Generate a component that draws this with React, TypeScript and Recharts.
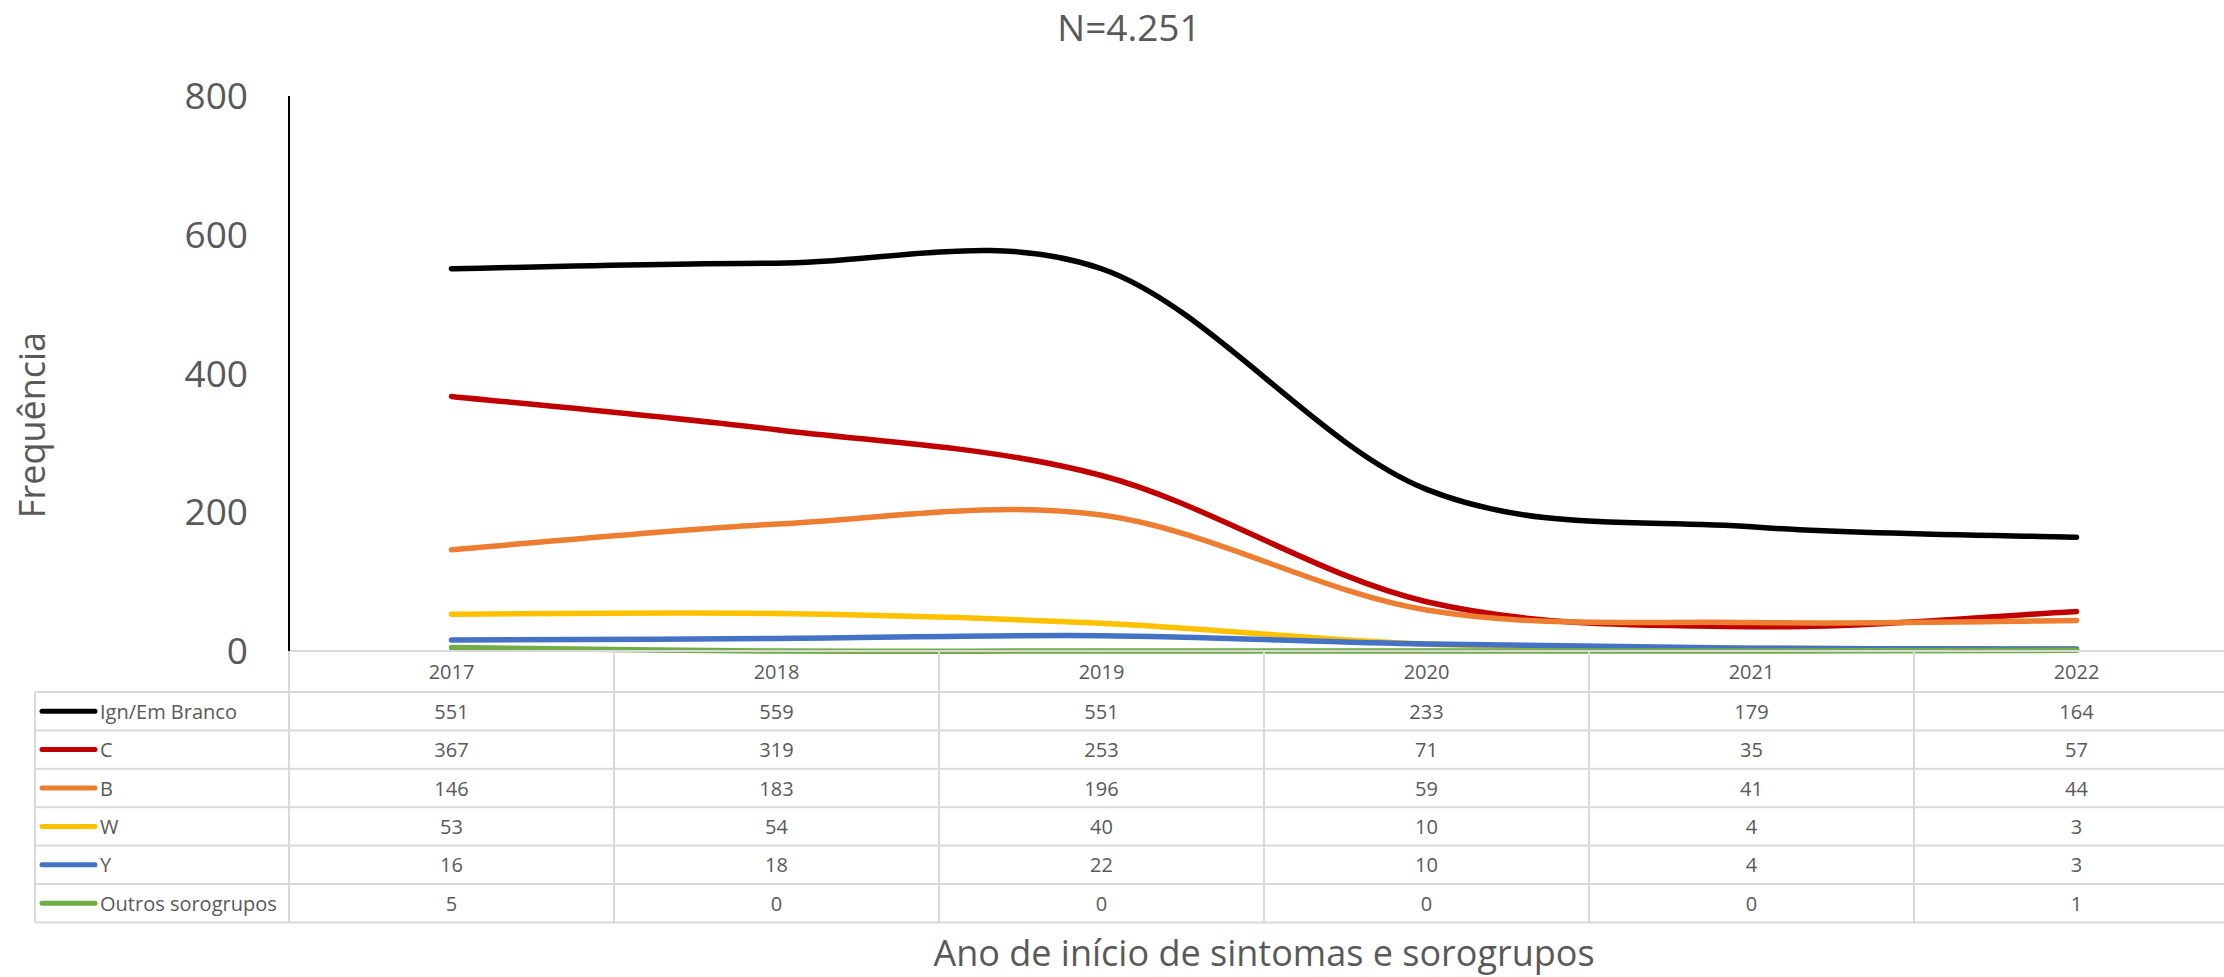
import { LineChart, Line, XAxis, YAxis, Legend, Label } from "recharts";

const years = ["2017", "2018", "2019", "2020", "2021", "2022"];
const ignEmBranco = [551, 559, 551, 233, 179, 164];
const sorogrupoC = [367, 319, 253, 71, 35, 57];
const sorogrupoB = [146, 183, 196, 59, 41, 44];
const sorogrupoW = [53, 54, 40, 10, 4, 3];
const sorogrupoY = [16, 18, 22, 10, 4, 3];
const outros = [5, 0, 0, 0, 0, 1];
const yTicks = [0, 200, 400, 600, 800];

const seriesList = [
  { key: "ign", name: "Ign/Em Branco", color: "#000000", values: ignEmBranco },
  { key: "c", name: "C", color: "#C00000", values: sorogrupoC },
  { key: "b", name: "B", color: "#ED7D31", values: sorogrupoB },
  { key: "w", name: "W", color: "#FFC000", values: sorogrupoW },
  { key: "y", name: "Y", color: "#4472C4", values: sorogrupoY },
  { key: "outros", name: "Outros sorogrupos", color: "#70AD47", values: outros },
];

const data = years.map((year, i) => {
  const row: Record<string, string | number> = { year };
  seriesList.forEach((s) => (row[s.key] = s.values[i]));
  return row;
});

const TEXT = "#595959";
const GRID = "#d9d9d9";
const COL_W = 325;
const HEAD_H = 41;
const ROW_H = 38.4;

// excel-style smoothed line (catmull-rom, ends clamped)
const excelSmooth = (context: any) => {
  let pts: number[][] = [];
  return {
    areaStart() {},
    areaEnd() {},
    lineStart() {
      pts = [];
    },
    point(x: number, y: number) {
      pts.push([+x, +y]);
    },
    lineEnd() {
      if (!pts.length) return;
      context.moveTo(pts[0][0], pts[0][1]);
      for (let i = 0; i < pts.length - 1; i++) {
        const p0 = pts[i - 1] || pts[i];
        const p1 = pts[i];
        const p2 = pts[i + 1];
        const p3 = pts[i + 2] || p2;
        context.bezierCurveTo(
          p1[0] + (p2[0] - p0[0]) / 6,
          p1[1] + (p2[1] - p0[1]) / 6,
          p2[0] - (p3[0] - p1[0]) / 6,
          p2[1] - (p3[1] - p1[1]) / 6,
          p2[0],
          p2[1]
        );
      }
    },
  };
};

const TableColumn = (props: any) => {
  const { x, y, payload } = props;
  const row = data.find((d) => d.year === payload.value);
  if (!row) return null;
  const left = x - COL_W / 2;
  const right = x + COL_W / 2;
  const bottom = y + HEAD_H + ROW_H * seriesList.length;
  return (
    <g>
      <line x1={left} x2={left} y1={y} y2={bottom} stroke={GRID} strokeWidth={2} />
      <line x1={right} x2={right} y1={y} y2={bottom} stroke={GRID} strokeWidth={2} />
      <text x={x} y={y + HEAD_H / 2} textAnchor="middle" dominantBaseline="central" fontSize={20} fill={TEXT}>
        {row.year}
      </text>
      {seriesList.map((s, i) => {
        const top = y + HEAD_H + ROW_H * i;
        return (
          <g key={s.key}>
            <line x1={left} x2={right} y1={top} y2={top} stroke={GRID} strokeWidth={2} />
            <text x={x} y={top + ROW_H / 2} textAnchor="middle" dominantBaseline="central" fontSize={20} fill={TEXT}>
              {row[s.key]}
            </text>
          </g>
        );
      })}
      <line x1={left} x2={right} y1={bottom} y2={bottom} stroke={GRID} strokeWidth={2} />
    </g>
  );
};

const LegendTable = ({ payload }: any) => {
  const given = payload || [];
  // keep series order (legend sorts by name otherwise)
  const items = seriesList
    .map((s) => given.find((p: any) => p.value === s.name))
    .filter(Boolean);
  const w = 254;
  const h = ROW_H * items.length;
  return (
    <svg width={w} height={h} style={{ overflow: "visible", display: "block" }}>
      <line x1={0} x2={0} y1={0} y2={h} stroke={GRID} strokeWidth={2} />
      {items.map((it: any, i: number) => {
        const top = ROW_H * i;
        return (
          <g key={it.value}>
            <line x1={0} x2={w} y1={top} y2={top} stroke={GRID} strokeWidth={2} />
            <line x1={7} x2={60} y1={top + ROW_H / 2} y2={top + ROW_H / 2} stroke={it.color} strokeWidth={5} strokeLinecap="round" />
            <text x={65} y={top + ROW_H / 2} dominantBaseline="central" fontSize={20} fill={TEXT}>
              {it.value}
            </text>
          </g>
        );
      })}
      <line x1={0} x2={w} y1={h} y2={h} stroke={GRID} strokeWidth={2} />
    </svg>
  );
};

const App = () => {
  return (
    <div
      style={{
        position: "absolute",
        left: 0,
        top: 0,
        width: 2224,
        height: 977,
        overflow: "hidden",
        background: "#fff",
        fontFamily: "'Open Sans', sans-serif",
      }}
    >
      <div
        style={{
          position: "absolute",
          left: 0,
          top: 0,
          width: 2258,
          textAlign: "center",
          fontSize: 37,
          lineHeight: "54px",
          color: TEXT,
        }}
      >
        N=4.251
      </div>
      <LineChart width={2239} height={977} data={data} margin={{ top: 96, right: 0, bottom: 0, left: 0 }}>
        <XAxis
          dataKey="year"
          padding={{ left: COL_W / 2, right: COL_W / 2 }}
          height={326}
          interval={0}
          axisLine={{ stroke: GRID, strokeWidth: 2 }}
          tickLine={false}
          tickSize={0}
          tickMargin={0}
          tick={<TableColumn />}
        >
          <Label
            content={() => (
              <text x={1264} y={952} textAnchor="middle" dominantBaseline="central" fontSize={36} fill={TEXT}>
                Ano de início de sintomas e sorogrupos
              </text>
            )}
          />
        </XAxis>
        <YAxis
          width={289}
          domain={[0, 800]}
          ticks={yTicks}
          axisLine={{ stroke: "#000", strokeWidth: 2 }}
          tickLine={false}
          tickSize={0}
          tickMargin={41}
          tick={{ fill: TEXT, fontSize: 37 }}
        >
          <Label
            content={() => (
              <text
                x={31}
                y={425}
                transform="rotate(-90 31 425)"
                textAnchor="middle"
                dominantBaseline="central"
                fontSize={36}
                fill={TEXT}
              >
                Frequência
              </text>
            )}
          />
        </YAxis>
        <Legend
          layout="vertical"
          align="center"
          verticalAlign="middle"
          wrapperStyle={{ left: 35, top: 692, width: 254 }}
          content={(p: any) => <LegendTable payload={p.payload} />}
        />
        {seriesList.map((s) => (
          <Line
            key={s.key}
            dataKey={s.key}
            name={s.name}
            type={excelSmooth as any}
            stroke={s.color}
            strokeWidth={5.5}
            strokeLinecap="round"
            dot={false}
            activeDot={false}
            isAnimationActive={false}
          />
        ))}
      </LineChart>
    </div>
  );
};

export default App;
